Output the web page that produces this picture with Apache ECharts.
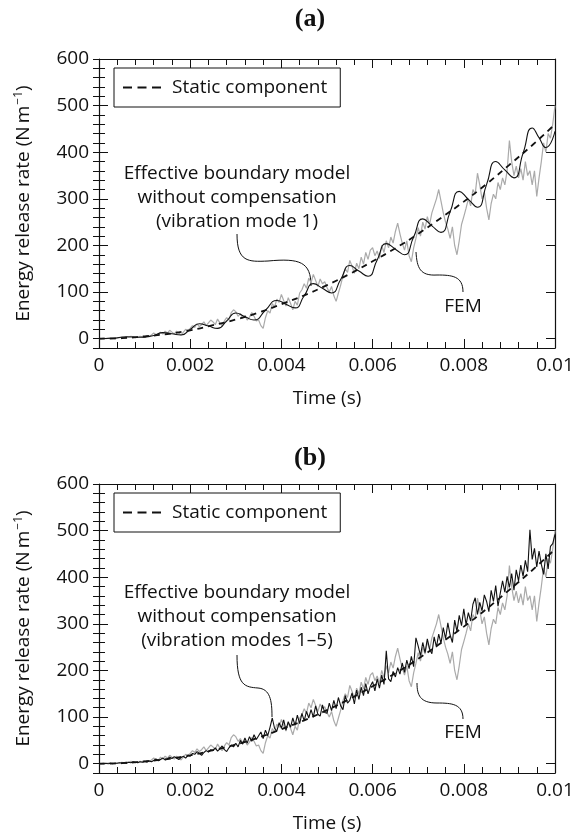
<!DOCTYPE html>
<html>
<head>
<meta charset="utf-8">
<title>Energy release rate</title>
<script src="https://cdn.jsdelivr.net/npm/echarts@6/dist/echarts.min.js"></script>
<style>
  html, body {margin: 0; padding: 0; background: #fff;}
  #chart {width: 583px; height: 838px;}
</style>
</head>
<body>
<div id="chart"></div>
<script>
// static component (dashed), both panels
const staticTime = [0, 0.0005, 0.001, 0.0015, 0.002, 0.0025, 0.003, 0.0035, 0.004, 0.0045, 0.005,
  0.0055, 0.006, 0.0065, 0.007, 0.0075, 0.008, 0.0085, 0.009, 0.0095, 0.01];
const staticValues = [0, 1, 5, 10, 18, 29, 41, 56, 74, 93, 115,
  139, 166, 194, 225, 259, 294, 332, 373, 415, 460];

// effective boundary model, vibration mode 1 (panel a)
const modeOneTime = [0, 0.0003, 0.0006, 0.0009, 0.0012, 0.0014, 0.0016, 0.0018, 0.002, 0.0022,
  0.0024, 0.0026, 0.0028, 0.003, 0.0032, 0.0034, 0.00365, 0.0039, 0.0041, 0.0043,
  0.0045, 0.0047, 0.0049, 0.0051, 0.0053, 0.0055, 0.0057, 0.0059, 0.0061, 0.0063,
  0.0065, 0.0067, 0.0069, 0.0071, 0.0073, 0.0075, 0.0077, 0.0079, 0.0081, 0.0083,
  0.0085, 0.0087, 0.0089, 0.0091, 0.0093, 0.0095, 0.00965, 0.0098, 0.01];
const modeOneValues = [0, 1, 4, 3, 7, 13, 10.5, 8, 20, 32,
  27, 22, 38, 55, 47, 40, 61, 82, 74, 66,
  92, 118, 108, 98, 127, 157, 145, 134, 169, 204,
  192, 180, 218, 257, 242, 228, 272, 316, 299, 282,
  331, 380, 362, 345, 398, 452, 431, 410, 445];

// FEM (grey), sampled every 0.05 ms
const femValues = [
  0, 0, 1, 0, 1, 2, 1, 0, 1, 2,
  3, 2, 4, 3, 5, 4, 2, 3, 5, 4,
  3, 6, 4, 8, 12, 9, 7, 14, 10, 16,
  12, 18, 14, 10, 16, 12, 8, 14, 20, 18,
  22, 28, 24, 32, 26, 30, 36, 28, 34, 40,
  36, 30, 42, 34, 28, 38, 45, 40, 56, 62,
  58, 48, 54, 44, 50, 40, 46, 56, 48, 38,
  40, 28, 22, 45, 60, 55, 75, 68, 85, 78,
  95, 82, 70, 88, 76, 62, 80, 72, 98, 105,
  118, 108, 130, 120, 138, 125, 112, 128, 118, 122,
  110, 100, 112, 92, 80, 98, 115, 135, 150, 142,
  168, 155, 140, 162, 150, 175, 160, 185, 170, 190,
  195, 178, 188, 172, 200, 185, 210, 195, 218, 205,
  230, 248, 225, 205, 190, 210, 178, 165, 195, 215,
  238, 220, 250, 235, 262, 245, 270, 285, 300, 320,
  295, 270, 250, 235, 215, 240, 200, 180, 210, 245,
  262, 280, 300, 285, 320, 310, 355, 330, 300, 315,
  280, 255, 290, 310, 300, 335, 320, 345, 330, 360,
  425, 380, 350, 370, 345, 365, 340, 380, 350, 360,
  330, 360, 305, 345, 380, 420, 400, 440, 430, 460,
  500];

// effective boundary model, vibration modes 1-5 (panel b), same sampling
const modesValues = [
  0, 0, 0, 1, 0, 1, 0, 1, 1, 2,
  1, 2, 1, 3, 2, 4, 3, 2, 4, 3,
  5, 3, 6, 4, 7, 10, 6, 9, 12, 8,
  10, 14, 11, 15, 12, 9, 13, 16, 12, 18,
  16, 22, 20, 26, 22, 18, 24, 28, 25, 30,
  28, 34, 27, 32, 38, 30, 26, 34, 40, 36,
  44, 36, 50, 42, 55, 44, 58, 48, 62, 52,
  60, 68, 54, 72, 60, 78, 98, 76, 70, 88,
  76, 94, 72, 90, 78, 98, 82, 104, 86, 108,
  92, 112, 98, 116, 100, 124, 106, 102, 126, 110,
  108, 130, 114, 136, 118, 142, 124, 116, 146, 130,
  136, 152, 128, 158, 138, 164, 146, 172, 150, 166,
  176, 156, 182, 162, 190, 170, 242, 182, 176, 198,
  186, 206, 192, 216, 196, 222, 204, 230, 208, 270,
  252, 232, 260, 238, 268, 246, 236, 272, 250, 278,
  258, 292, 268, 302, 276, 260, 308, 284, 318, 296,
  332, 298, 324, 306, 342, 356, 320, 346, 328, 362,
  348, 326, 372, 348, 382, 338, 366, 392, 368, 402,
  378, 408, 372, 416, 392, 426, 402, 436, 412, 502,
  438, 462, 422, 456, 428, 406, 450, 418, 466, 472,
  492];

const sampleStep = 0.00005;
const fineTime = femValues.map((_, i) => i * sampleStep);

const yMajor = [0, 100, 200, 300, 400, 500, 600];
const xLabels = {0: '0', 0.002: '0.002', 0.004: '0.004', 0.006: '0.006', 0.008: '0.008', 0.01: '0.01'};

const FONT = 'Open Sans';
const FS = 19;
const pairs = (xs, ys) => ys.map((v, i) => [xs[i], v]);

const chart = echarts.init(document.getElementById('chart'), null, {renderer: 'canvas'});

const tops = [59, 484];
const grids = tops.map(t => ({left: 99, top: t, width: 456, height: 289}));

const xAxes = [];
const yAxes = [];
tops.forEach((t, g) => {
  ['bottom', 'top'].forEach(pos => {
    xAxes.push({
      gridIndex: g,
      type: 'value',
      position: pos,
      min: 0,
      max: 0.01,
      interval: 0.002,
      name: pos === 'bottom' ? 'Time (s)' : '',
      nameLocation: 'middle',
      nameGap: 41,
      nameTextStyle: {fontFamily: FONT, fontSize: FS, color: '#111'},
      axisLine: {onZero: false, lineStyle: {color: '#111', width: 1.2}},
      axisTick: {inside: true, length: 9, lineStyle: {color: '#111'}},
      minorTick: {show: true, splitNumber: 5, length: 6, lineStyle: {color: '#111'}},
      splitLine: {show: false},
      axisLabel: {
        show: pos === 'bottom',
        margin: 8,
        fontFamily: FONT,
        fontSize: FS,
        color: '#111',
        formatter: v => xLabels[+v.toFixed(4)] ?? ''
      }
    });
  });
  ['left', 'right'].forEach(pos => {
    // major ticks with labels
    yAxes.push({
      gridIndex: g,
      type: 'value',
      position: pos,
      min: -20,
      max: 600,
      name: pos === 'left' ? 'Energy release rate (N\u2009m{sup|\u22121})' : '',
      nameLocation: 'middle',
      nameGap: 64,
      nameTextStyle: {
        fontFamily: FONT, fontSize: FS, color: '#111',
        rich: {sup: {fontFamily: FONT, fontSize: 12, color: '#111', padding: [0, 0, 10, 1]}}
      },
      axisLine: {onZero: false, lineStyle: {color: '#111', width: 1.2}},
      axisTick: {inside: true, length: 9, customValues: yMajor, lineStyle: {color: '#111'}},
      splitLine: {show: false},
      axisLabel: {
        show: pos === 'left',
        customValues: yMajor,
        margin: 10,
        fontFamily: FONT,
        fontSize: FS,
        color: '#111'
      }
    });
    // minor ticks every 20
    yAxes.push({
      gridIndex: g,
      type: 'value',
      position: pos,
      min: -20,
      max: 600,
      interval: 20,
      axisLine: {show: false},
      axisTick: {inside: true, length: 6, lineStyle: {color: '#111'}},
      splitLine: {show: false},
      axisLabel: {show: false}
    });
  });
});

const lineBase = {type: 'line', showSymbol: false, symbol: 'none', animation: false, silent: true};

const series = [
  // panel (a)
  {...lineBase, name: 'FEM', xAxisIndex: 0, yAxisIndex: 0,
    data: pairs(fineTime, femValues), lineStyle: {color: '#aaaaaa', width: 1.2}},
  {...lineBase, name: 'Effective boundary model', xAxisIndex: 0, yAxisIndex: 0, smooth: 0.55,
    data: pairs(modeOneTime, modeOneValues), lineStyle: {color: '#111', width: 1.1}},
  {...lineBase, name: 'Static component', xAxisIndex: 0, yAxisIndex: 0, smooth: true,
    data: pairs(staticTime, staticValues), lineStyle: {color: '#111', width: 1.8, type: [6, 5]},
    itemStyle: {color: '#111'}},
  // panel (b)
  {...lineBase, name: 'FEM', xAxisIndex: 2, yAxisIndex: 4,
    data: pairs(fineTime, femValues), lineStyle: {color: '#aaaaaa', width: 1.2}},
  {...lineBase, name: 'Effective boundary model', xAxisIndex: 2, yAxisIndex: 4,
    data: pairs(fineTime, modesValues), lineStyle: {color: '#111', width: 1.1}},
  {...lineBase, name: 'Static component', xAxisIndex: 2, yAxisIndex: 4, smooth: true,
    data: pairs(staticTime, staticValues), lineStyle: {color: '#111', width: 1.8, type: [6, 5]},
    itemStyle: {color: '#111'}}
];

const dashIcon = 'path://M0,0h9v2h-9zM14.5,0h9v2h-9zM29,0h9v2h-9z';
const legends = tops.map(t => ({
  left: 114,
  top: t + 9,
  data: [{name: 'Static component', icon: dashIcon}],
  selectedMode: false,
  itemWidth: 38,
  itemHeight: 2,
  itemGap: 0,
  padding: [9, 13, 9, 9],
  borderColor: '#111',
  borderWidth: 1,
  borderRadius: 0,
  backgroundColor: '#fff',
  textStyle: {fontFamily: FONT, fontSize: FS, color: '#111', padding: [0, 0, 0, 6], lineHeight: 21}
}));

const titles = [
  {text: '(a)', left: 310, top: 6},
  {text: '(b)', left: 310, top: 445}
].map(o => ({
  ...o,
  textAlign: 'center',
  padding: 0,
  textStyle: {fontFamily: 'Liberation Serif', fontWeight: 'bold', fontSize: 26, color: '#111'}
}));

const curveStyle = {stroke: '#111', lineWidth: 1, fill: null};
const curve = (x1, y1, cpx1, cpy1, cpx2, cpy2, x2, y2) => ({
  type: 'bezierCurve', silent: true,
  shape: {x1, y1, cpx1, cpy1, cpx2, cpy2, x2, y2},
  style: curveStyle
});
const label = (text, x, y) => ({
  type: 'text', silent: true, x, y,
  style: {text, fontFamily: FONT, fontSize: FS, fill: '#111', textAlign: 'center', textVerticalAlign: 'middle', lineHeight: 24}
});

const graphic = [
  label('Effective boundary model\nwithout compensation\n(vibration mode 1)', 237, 198),
  curve(237, 234, 237, 262, 248, 262, 268, 261),
  curve(268, 261, 300, 258, 311, 262, 311, 286),
  label('FEM', 463, 307),
  curve(463, 292, 463, 276, 452, 275, 437, 275),
  curve(437, 275, 420, 276, 417, 268, 416, 252),

  label('Effective boundary model\nwithout compensation\n(vibration modes 1\u20135)', 237, 617),
  curve(237, 655, 237, 686, 245, 687, 258, 688),
  curve(258, 688, 270, 689, 272, 700, 272, 717),
  label('FEM', 463, 733),
  curve(463, 719, 463, 704, 452, 703, 437, 703),
  curve(437, 703, 420, 703, 417, 695, 417, 683)
];

chart.setOption({
  backgroundColor: '#fff',
  animation: false,
  title: titles,
  legend: legends,
  grid: grids,
  xAxis: xAxes,
  yAxis: yAxes,
  series: series,
  graphic: graphic
});
</script>
</body>
</html>
